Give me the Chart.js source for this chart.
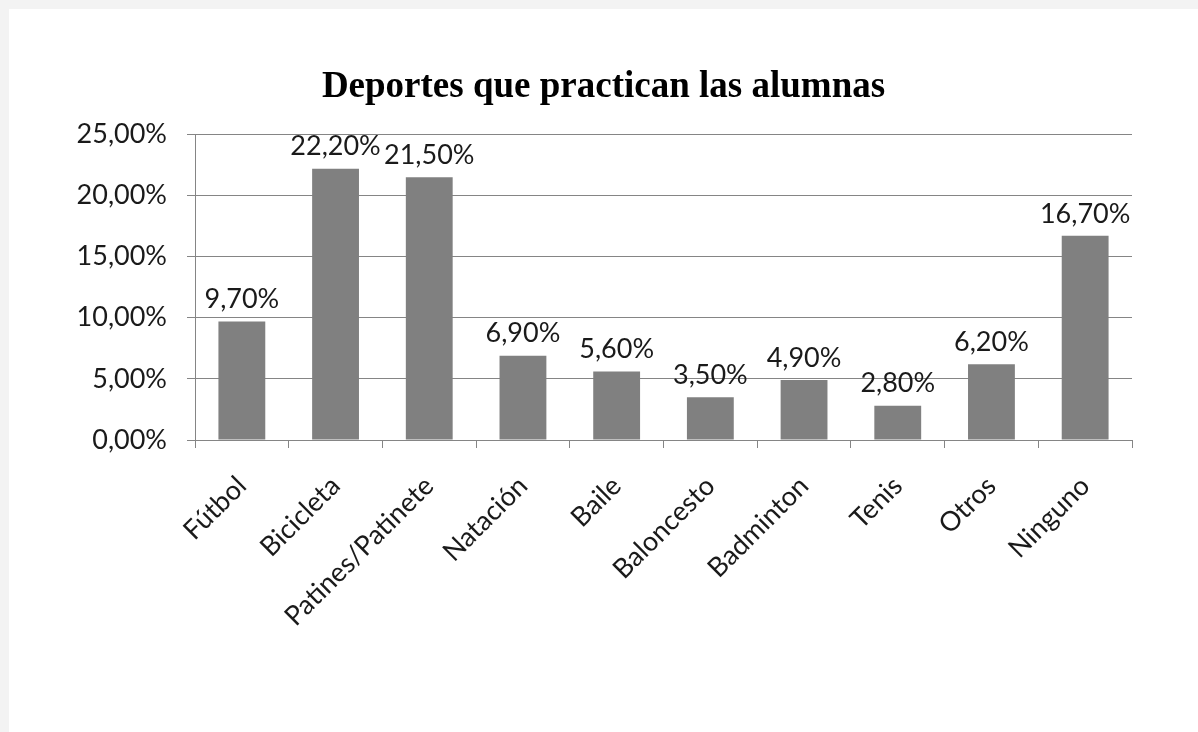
<!DOCTYPE html>
<html lang="es">
  <head>
    <meta charset="UTF-8" />
    <title>Deportes que practican las alumnas</title>
    <script src="https://cdn.jsdelivr.net/npm/chart.js"></script>
    <style>
      html, body { margin: 0; padding: 0; background: #f3f3f3; }
      #card {
        position: absolute; left: 9px; top: 9px;
        width: 1189px; height: 723px; background: #ffffff;
      }
    </style>
  </head>
  <body>
    <div id="card"><canvas id="sportsChart" width="1189" height="723"></canvas></div>

    <script>
      // chart data
      const categories = ['Fútbol', 'Bicicleta', 'Patines/Patinete', 'Natación', 'Baile',
        'Baloncesto', 'Badminton', 'Tenis', 'Otros', 'Ninguno']
      const percentages = [9.7, 22.2, 21.5, 6.9, 5.6, 3.5, 4.9, 2.8, 6.2, 16.7]
      const yTicks = [0, 5, 10, 15, 20, 25]
      const chartTitle = 'Deportes que practican las alumnas'

      const labelFont = { family: 'Lato', size: 27 }
      const gridGray = '#858585'

      // format like the spreadsheet: 22,20%
      function formatPct(v) {
        return v.toFixed(2).replace('.', ',') + '%'
      }

      // draws the value above every bar
      const valueLabels = {
        id: 'valueLabels',
        afterDatasetsDraw(chart) {
          const ctx = chart.ctx
          const meta = chart.getDatasetMeta(0)
          ctx.save()
          ctx.font = labelFont.size + 'px ' + labelFont.family
          ctx.fillStyle = '#1a1a1a'
          ctx.textAlign = 'center'
          ctx.textBaseline = 'middle'
          meta.data.forEach((bar, i) => {
            ctx.fillText(formatPct(percentages[i]), bar.x, bar.y - 22)
          })
          ctx.restore()
        }
      }

      new Chart(document.getElementById('sportsChart'), {
        type: 'bar',
        data: {
          labels: categories,
          datasets: [{
            data: percentages,
            backgroundColor: '#808080',
            barPercentage: 0.5,
            categoryPercentage: 1
          }]
        },
        options: {
          responsive: false,
          animation: false,
          layout: { padding: 0 },
          plugins: {
            legend: { display: false },
            tooltip: { enabled: false },
            title: {
              display: true,
              text: chartTitle,
              color: '#000000',
              font: { family: 'Liberation Serif', size: 37, weight: 'bold' },
              padding: { top: 56, bottom: 25 }
            }
          },
          scales: {
            x: {
              grid: { drawOnChartArea: false, color: gridGray, tickLength: 8, offset: true },
              border: { color: gridGray },
              ticks: {
                color: '#1a1a1a', font: labelFont,
                minRotation: 45, maxRotation: 45, padding: 22
              },
              afterFit: s => { s.height = 292 }
            },
            y: {
              min: 0,
              max: 25,
              afterBuildTicks: s => { s.ticks = yTicks.map(v => ({ value: v })) },
              grid: { color: gridGray, tickLength: 8 },
              border: { color: gridGray },
              ticks: { color: '#1a1a1a', font: labelFont, padding: 20, callback: v => formatPct(v) },
              afterFit: s => { s.width = 186 }
            },
            // empty right axis, only keeps the space right of the plot
            yRight: {
              position: 'right',
              grid: { display: false },
              border: { display: false },
              ticks: { display: false },
              afterFit: s => { s.width = 66 }
            }
          }
        },
        plugins: [valueLabels]
      })
    </script>
  </body>
</html>
